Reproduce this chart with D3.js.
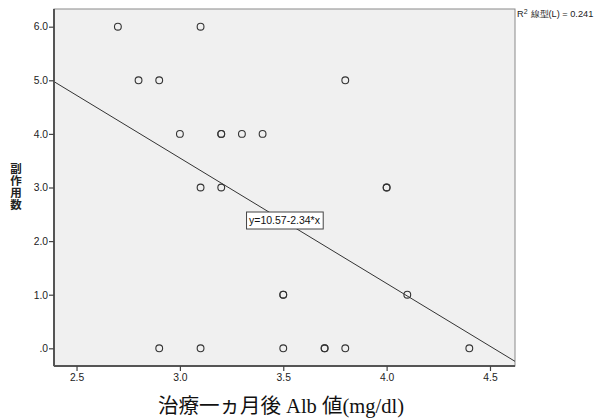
<!DOCTYPE html>
<html><head><meta charset="utf-8">
<script src="https://cdn.jsdelivr.net/npm/d3@7"></script>
<style>body{margin:0;background:#fff}svg{display:block}</style>
</head><body>
<svg id="c" width="604" height="420"></svg>
<script>
const xValues = [2.7, 3.1, 2.8, 2.9, 3.8, 3.0, 3.2, 3.2, 3.3, 3.4, 3.1, 3.2, 4.0, 4.0, 3.5, 3.5, 4.1, 2.9, 3.1, 3.5, 3.7, 3.7, 3.8, 4.4];
const yValues = [6, 6, 5, 5, 5, 4, 4, 4, 4, 4, 3, 3, 3, 3, 1, 1, 1, 0, 0, 0, 0, 0, 0, 0];
const xTicks = [2.5, 3.0, 3.5, 4.0, 4.5];
const yTicks = [0, 1, 2, 3, 4, 5, 6];
const yTickLabels = [".0", "1.0", "2.0", "3.0", "4.0", "5.0", "6.0"];
const fitIntercept = 10.57, fitSlope = -2.34;
const fitLabel = "y=10.57-2.34*x";
const r2Label = "線型(L) = 0.241";
const xTitle = "治療一ヵ月後 Alb 値(mg/dl)";
const yTitle = "副作用数";

const svg = d3.select("#c");
const L = 54, R = 515, T = 9, B = 366;
const x = d3.scaleLinear().domain([2.391, 4.621]).range([L, R]);
const y = d3.scaleLinear().domain([-0.33, 6.33]).range([B, T]);

svg.append("rect").attr("x", L).attr("y", T).attr("width", R - L).attr("height", B - T)
  .attr("fill", "#f0f0f0").attr("stroke", "#8a8a8a").attr("stroke-width", 1);

const clip = svg.append("clipPath").attr("id", "pc");
clip.append("rect").attr("x", L).attr("y", T).attr("width", R - L).attr("height", B - T);

// regression line
const [x0, x1] = x.domain();
svg.append("line").attr("clip-path", "url(#pc)")
  .attr("x1", x(x0)).attr("y1", y(fitIntercept + fitSlope * x0))
  .attr("x2", x(x1)).attr("y2", y(fitIntercept + fitSlope * x1))
  .attr("stroke", "#333").attr("stroke-width", 1);

// points
svg.append("g").selectAll("circle").data(xValues.map((v, i) => [v, yValues[i]])).join("circle")
  .attr("cx", d => x(d[0])).attr("cy", d => y(d[1])).attr("r", 3.4)
  .attr("fill", "none").attr("stroke", "#333").attr("stroke-width", 1.1);

// axes
const xa = svg.append("g").attr("transform", `translate(0,${B})`)
  .call(d3.axisBottom(x).tickValues(xTicks).tickFormat(d3.format(".1f")).tickSize(5).tickSizeOuter(0));
const ya = svg.append("g").attr("transform", `translate(${L},0)`)
  .call(d3.axisLeft(y).tickValues(yTicks).tickFormat((d, i) => yTickLabels[i]).tickSize(5).tickSizeOuter(0));
[xa, ya].forEach(a => {
  a.select(".domain").attr("stroke", "#555").attr("stroke-width", 2);
  a.selectAll(".tick line").attr("stroke", "#444").attr("stroke-width", 1.2);
  a.selectAll(".tick text").attr("fill", "#222").attr("font-family", "Liberation Sans, Arial, sans-serif").attr("font-size", 10.3);
});
xa.select(".domain").attr("d", `M${L},0H${R}`);
ya.select(".domain").attr("d", `M0,${T}V${B}`);
ya.selectAll(".tick text").attr("x", -6);
xa.selectAll(".tick text").attr("y", 8);

// fit label box
const fx = 284.5, fy = 220.5;
const fg = svg.append("g");
const frect = fg.append("rect");
const ft = fg.append("text").attr("x", fx).attr("y", fy + 3.8).attr("text-anchor", "middle")
  .attr("font-family", "Liberation Sans, Arial, sans-serif").attr("font-size", 10.5).attr("fill", "#111").text(fitLabel);
const bb = ft.node().getBBox();
frect.attr("x", bb.x - 2.5).attr("y", fy - 8.5).attr("width", bb.width + 5).attr("height", 17)
  .attr("fill", "#fff").attr("stroke", "#444").attr("stroke-width", 1);

// R2 label
const r2 = svg.append("text").attr("x", 517).attr("y", 17)
  .attr("font-family", "Liberation Sans, Arial, sans-serif").attr("font-size", 9.2).attr("fill", "#222");
r2.append("tspan").text("R");
r2.append("tspan").attr("dy", -3.5).attr("font-size", 7).text("2");
r2.append("tspan").attr("dy", 3.5).attr("dx", 3).text(r2Label);

// y title (vertical)
svg.append("text").attr("x", 16).attr("y", 163)
  .style("writing-mode", "vertical-rl").style("text-orientation", "upright")
  .attr("font-family", "Noto Sans CJK JP, sans-serif").attr("font-weight", "bold").attr("font-size", 11.5)
  .attr("letter-spacing", 0.3).attr("fill", "#222").text(yTitle);

// x title
svg.append("text").attr("x", 281).attr("y", 413).attr("text-anchor", "middle")
  .attr("font-family", "Liberation Serif, Times New Roman, Noto Sans CJK JP, serif").attr("font-size", 20.5)
  .attr("fill", "#111").text(xTitle);
</script>
</body></html>
